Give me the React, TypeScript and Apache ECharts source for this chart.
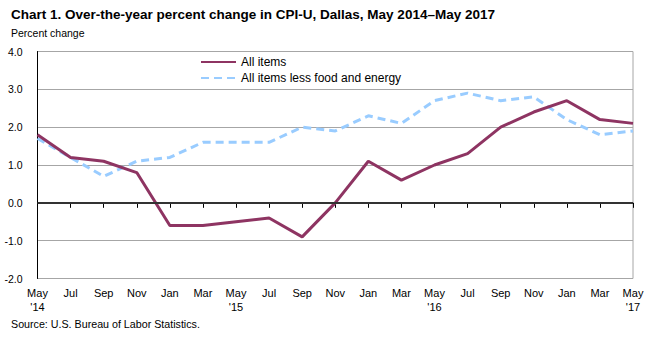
import React, { useEffect, useRef } from "react";
import * as echarts from "echarts";

const categories = [
  "May\n'14", "Jul", "Sep", "Nov", "Jan", "Mar", "May\n'15", "Jul", "Sep", "Nov",
  "Jan", "Mar", "May\n'16", "Jul", "Sep", "Nov", "Jan", "Mar", "May\n'17",
];
const allItems = [1.8, 1.2, 1.1, 0.8, -0.6, -0.6, -0.5, -0.4, -0.9, 0.0, 1.1, 0.6, 1.0, 1.3, 2.0, 2.4, 2.7, 2.2, 2.1];
const core = [1.7, 1.2, 0.7, 1.1, 1.2, 1.6, 1.6, 1.6, 2.0, 1.9, 2.3, 2.1, 2.7, 2.9, 2.7, 2.8, 2.2, 1.8, 1.9];

const FONT = "Arial, 'Liberation Sans', sans-serif";

export default function App() {
  const ref = useRef<HTMLDivElement>(null);
  useEffect(() => {
    if (!ref.current) return;
    const chart = echarts.init(ref.current, null, { renderer: "svg" });
    chart.setOption({
      animation: false,
      backgroundColor: "#ffffff",
      textStyle: { fontFamily: FONT, color: "#000" },
      graphic: [
        {
          type: "text", x: 11, y: 14,
          style: {
            text: "Chart 1. Over-the-year percent change in CPI-U, Dallas, May 2014\u2013May 2017",
            font: `bold 13.5px ${FONT}`, fill: "#000", textVerticalAlign: "middle",
          },
        },
        {
          type: "text", x: 11, y: 33,
          style: { text: "Percent change", font: `10.5px ${FONT}`, fill: "#000", textVerticalAlign: "middle" },
        },
        {
          type: "text", x: 11, y: 324,
          style: { text: "Source: U.S. Bureau of Labor Statistics.", font: `10.7px ${FONT}`, fill: "#000", textVerticalAlign: "middle" },
        },
      ],
      legend: {
        left: 200, top: 56, orient: "vertical", padding: 0,
        itemWidth: 35, itemHeight: 10, itemGap: 4,
        itemStyle: { opacity: 0 },
        textStyle: { fontSize: 12, fontFamily: FONT, color: "#000" },
        data: ["All items", "All items less food and energy"],
      },
      grid: {
        left: 37.5, right: 20, top: 51.5, bottom: 58.5,
        show: true, borderColor: "#a6a6a6", borderWidth: 1,
      },
      xAxis: {
        type: "category", data: categories, boundaryGap: false,
        axisLine: { lineStyle: { color: "#000", width: 1 } },
        axisTick: { show: true, length: 5, lineStyle: { color: "#000" } },
        axisLabel: { interval: 0, fontSize: 11, color: "#000", lineHeight: 13.5, margin: 8, fontFamily: FONT },
      },
      yAxis: {
        type: "value", min: -2, max: 4, interval: 1,
        axisLine: { show: true, lineStyle: { color: "#000" } },
        axisTick: { show: false },
        axisLabel: { fontSize: 10.5, color: "#000", margin: 15, formatter: (v: number) => v.toFixed(1), fontFamily: FONT },
        splitLine: { lineStyle: { color: "#a6a6a6", width: 1 } },
      },
      series: [
        {
          name: "All items", type: "line", data: allItems, symbol: "none",
          lineStyle: { color: "#8e3462", width: 3 }, itemStyle: { color: "#8e3462" },
          z: 3,
          markLine: {
            silent: true, symbol: "none", label: { show: false },
            lineStyle: { color: "#333", width: 2, type: "solid" },
            data: [{ yAxis: 0 }],
          },
        },
        {
          name: "All items less food and energy", type: "line", data: core, symbol: "none",
          lineStyle: { color: "#99ccff", width: 3, type: [8, 5] }, itemStyle: { color: "#99ccff" },
          z: 2,
        },
      ],
    });
    return () => chart.dispose();
  }, []);
  return <div ref={ref} style={{ position: "absolute", left: 0, top: 0, width: 653, height: 337 }} />;
}
